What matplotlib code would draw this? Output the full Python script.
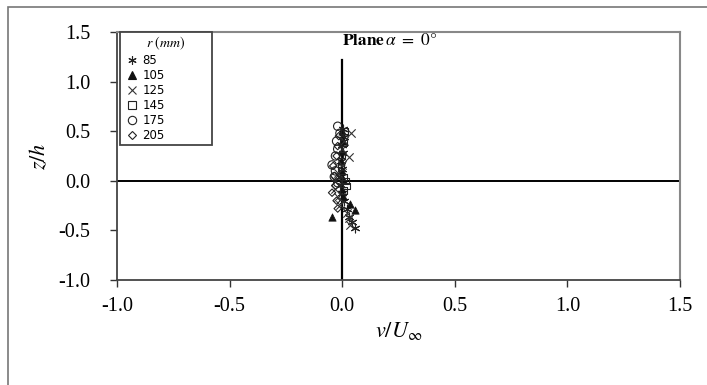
import numpy as np
import matplotlib.pyplot as plt
import matplotlib.patches as patches
from matplotlib.lines import Line2D

plt.rcParams['font.family'] = ['Liberation Serif', 'DejaVu Serif']
plt.rcParams['mathtext.fontset'] = 'stix'

# profils v/Uinf en fonction de z/h, plan alpha = 0
r_mm = ['85', '105', '125', '145', '175', '205']

z_85 = [0.52, 0.44, 0.36, 0.28, 0.20, 0.12, 0.04, -0.04, -0.12, -0.20, -0.28, -0.36, -0.42, -0.48]
v_85 = [0.005, 0.01, 0.0, 0.005, -0.005, 0.0, -0.01, -0.005, 0.0, 0.01, 0.02, 0.03, 0.045, 0.058]

z_105 = [0.50, 0.40, 0.30, 0.20, 0.10, 0.02, -0.08, -0.15, -0.23, -0.29, -0.36]
v_105 = [0.0, 0.005, 0.0, -0.005, 0.0, 0.005, 0.0, 0.003, 0.036, 0.058, -0.046]

z_125 = [0.48, 0.40, 0.32, 0.24, 0.16, 0.08, 0.0, -0.08, -0.16, -0.24, -0.32, -0.38, -0.45]
v_125 = [0.038, 0.01, 0.0, 0.03, 0.0, -0.02, -0.03, -0.03, -0.02, -0.01, 0.02, 0.03, 0.035]

z_145 = [0.50, 0.38, 0.26, 0.14, 0.04, 0.0, -0.05, -0.10]
v_145 = [0.01, 0.005, 0.0, -0.005, 0.005, 0.015, 0.02, 0.005]

z_175 = [0.55, 0.48, 0.40, 0.32, 0.25, 0.16, 0.10, 0.04, -0.02]
v_175 = [-0.02, -0.01, -0.025, -0.02, -0.03, -0.045, -0.03, -0.035, -0.02]

z_205 = [0.45, 0.35, 0.25, 0.15, 0.05, -0.05, -0.12, -0.20, -0.28]
v_205 = [-0.015, -0.02, -0.025, -0.04, -0.035, -0.03, -0.045, -0.025, -0.02]

series = [(v_85, z_85), (v_105, z_105), (v_125, z_125),
          (v_145, z_145), (v_175, z_175), (v_205, z_205)]
# asterisque, triangle plein, croix, carre, cercle, losange
styles = [dict(marker=(6, 2, 0), s=40, facecolors='#222', edgecolors='#222', linewidths=0.8),
          dict(marker='^', s=28, facecolors='#111', edgecolors='#111', linewidths=0.5),
          dict(marker='x', s=36, facecolors='#333', edgecolors='#333', linewidths=0.8),
          dict(marker='s', s=22, facecolors='none', edgecolors='#222', linewidths=0.8),
          dict(marker='o', s=36, facecolors='none', edgecolors='#222', linewidths=0.8),
          dict(marker='D', s=14, facecolors='none', edgecolors='#222', linewidths=0.8)]

fig = plt.figure(figsize=(7.07, 3.85), dpi=100)
ax = fig.add_axes([117 / 707, 1 - 280 / 385, 563 / 707, 248 / 385])

# cadre exterieur
fig.patches.append(patches.Rectangle((8 / 707, -0.05), 1.0, 1 - 7 / 385 + 0.05,
                                     transform=fig.transFigure, fill=False,
                                     edgecolor='#777', linewidth=1.2))

for (v, z), st, lab in zip(series, styles, r_mm):
    ax.scatter(v, z, label=lab, zorder=3, **st)

ax.axhline(0, color='black', lw=1.4, zorder=2)
ax.plot([0, 0], [-1.0, 1.22], color='black', lw=1.6, zorder=2)

ax.set_xlim(-1.0, 1.5)
ax.set_ylim(-1.0, 1.5)
ax.set_xticks(np.arange(-1.0, 1.51, 0.5))
ax.set_yticks(np.arange(-1.0, 1.51, 0.5))
ax.xaxis.set_major_formatter(plt.FormatStrFormatter('%.1f'))
ax.yaxis.set_major_formatter(plt.FormatStrFormatter('%.1f'))
ax.tick_params(direction='out', length=5, width=1, labelsize=14.5, color='#333')
ax.tick_params(axis='y', pad=14)
ax.tick_params(axis='x', pad=7)

for s in ['top', 'right']:
    ax.spines[s].set_color('#888')
    ax.spines[s].set_linewidth(1.5)
for s in ['left', 'bottom']:
    ax.spines[s].set_color('#444')
    ax.spines[s].set_linewidth(1.3)

ax.set_xlabel(r'$v/U_\infty$', fontsize=16, labelpad=3)
ax.set_ylabel(r'$z/h$', fontsize=16, labelpad=6)

ax.text(0.0, 1.41, r'$\mathbf{Plane}\,\alpha\ =\ 0°$', fontsize=12.5, ha='left', va='center')

handles = [Line2D([], [], ls='none', marker=st['marker'], markersize=6 if st['marker'] != 'D' else 4,
                  markerfacecolor=st['facecolors'], markeredgecolor=st['edgecolors'],
                  markeredgewidth=0.8) for st in styles]
leg = ax.legend(handles, r_mm, loc='upper left', mode='expand',
                bbox_to_anchor=(0.005, 1 - 110 / 248, 92 / 563, 110 / 248),
                title=r'$\mathbf{\mathit{r\ (mm)}}$', title_fontsize=10,
                prop={'family': 'DejaVu Sans', 'size': 8.5}, fancybox=False,
                framealpha=1, edgecolor='#444', handlelength=1.6, handletextpad=0.05,
                labelspacing=0.16, borderpad=0.25, borderaxespad=0, frameon=True)
leg.get_frame().set_linewidth(1.3)

fig.savefig('out.png', dpi=100)
